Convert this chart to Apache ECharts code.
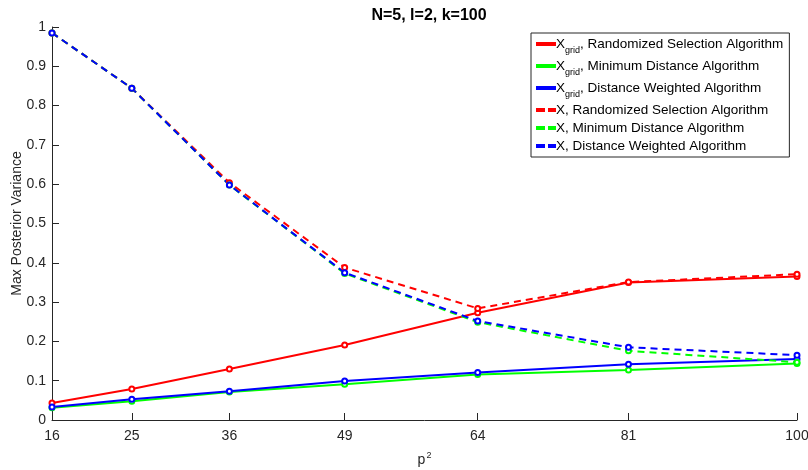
<!DOCTYPE html>
<html>
<head>
<meta charset="utf-8">
<script src="https://cdn.jsdelivr.net/npm/echarts@6/dist/echarts.min.js"></script>
<style>html,body{margin:0;padding:0;background:#fff}#c{width:808px;height:470px}</style>
</head>
<body>
<div id="c"></div>
<script>
var xValues = [16, 25, 36, 49, 64, 81, 100];
var xTicks = [16, 25, 36, 49, 64, 81, 100];
var gridRandomized = [0.043, 0.079, 0.130, 0.191, 0.273, 0.350, 0.365];
var gridMinDistance = [0.031, 0.048, 0.071, 0.091, 0.116, 0.127, 0.144];
var gridDistWeighted = [0.033, 0.053, 0.073, 0.099, 0.121, 0.142, 0.155];
var xRandomized = [0.985, 0.844, 0.604, 0.388, 0.284, 0.351, 0.371];
var xMinDistance = [0.985, 0.844, 0.598, 0.373, 0.249, 0.176, 0.147];
var xDistWeighted = [0.985, 0.844, 0.598, 0.375, 0.252, 0.185, 0.165];

var seriesDefs = [
  {name: 'X_grid, Randomized Selection Algorithm', data: gridRandomized, color: '#ff0000', dashed: false},
  {name: 'X_grid, Minimum Distance Algorithm', data: gridMinDistance, color: '#00ff00', dashed: false},
  {name: 'X_grid, Distance Weighted Algorithm', data: gridDistWeighted, color: '#0000ff', dashed: false},
  {name: 'X, Randomized Selection Algorithm', data: xRandomized, color: '#ff0000', dashed: true},
  {name: 'X, Minimum Distance Algorithm', data: xMinDistance, color: '#00ff00', dashed: true},
  {name: 'X, Distance Weighted Algorithm', data: xDistWeighted, color: '#0000ff', dashed: true}
];

function pairs(arr) { return arr.map(function (v, i) { return [xValues[i], v]; }); }

var chart = echarts.init(document.getElementById('c'), null, {renderer: 'canvas'});
var axisColor = '#262626';
var font = 'Liberation Sans, Arial, Helvetica, sans-serif';

var option = {
  backgroundColor: '#ffffff',
  animation: false,
  textStyle: {fontFamily: font},
  title: {
    text: 'N=5, l=2, k=100',
    left: 424, top: 3, textAlign: 'center',
    textStyle: {fontSize: 16, fontWeight: 'bold', color: '#000', fontFamily: font}
  },
  grid: {left: 52, right: 11, top: 27, bottom: 50, containLabel: false, outerBoundsMode: 'none'},
  legend: {
    orient: 'vertical',
    left: 531, top: 33,
    padding: [4, 6, 4, 5],
    itemGap: 4,
    itemWidth: 18, itemHeight: 2,
    borderColor: axisColor, borderWidth: 1,
    backgroundColor: '#fff',
    textStyle: {
      fontSize: 13.5, color: '#000', fontFamily: font, padding: [0, 0, 0, -4],
      rich: {
        sub: {fontSize: 9, verticalAlign: 'bottom', padding: [13, 0, 0, 0], fontFamily: font, color: '#000'},
        n: {fontSize: 13.5, fontFamily: font, color: '#000'}
      }
    },
    formatter: function (name) {
      if (name.indexOf('X_grid') === 0) {
        return '{n|X}{sub|grid}{n|' + name.slice(6) + '}';
      }
      return '{n|' + name + '}';
    },
    data: seriesDefs.map(function (s) {
      return {
        name: s.name,
        icon: s.dashed ? 'path://M0,0h7v2h-7z M12,0h6v2h-6z' : 'path://M0,0h18v2h-18z'
      };
    })
  },
  xAxis: {
    type: 'value', min: 16, max: 100,
    name: '{a|p}{b|2}', nameLocation: 'middle', nameGap: 31,
    nameMoveOverlap: false,
    nameTextStyle: {
      color: axisColor, fontSize: 14, fontFamily: font,
      rich: {a: {fontSize: 14, color: axisColor, fontFamily: font}, b: {fontSize: 9, color: axisColor, fontFamily: font, verticalAlign: 'top', padding: [0, 0, 10, 1]}}
    },
    axisLine: {show: true, lineStyle: {color: axisColor, width: 1}},
    axisTick: {show: true, inside: true, length: 7, customValues: xTicks, lineStyle: {color: axisColor}},
    axisLabel: {customValues: xTicks, color: axisColor, fontSize: 14, margin: 9, fontFamily: font},
    splitLine: {show: false}
  },
  yAxis: {
    type: 'value', min: 0, max: 1, interval: 0.1,
    name: 'Max Posterior Variance', nameLocation: 'middle', nameGap: 28,
    nameMoveOverlap: false,
    nameTextStyle: {color: axisColor, fontSize: 14, fontFamily: font},
    axisLine: {show: true, lineStyle: {color: axisColor, width: 1}},
    axisTick: {show: true, inside: true, length: 7, lineStyle: {color: axisColor}},
    axisLabel: {color: axisColor, fontSize: 14, margin: 6, fontFamily: font},
    splitLine: {show: false}
  },
  series: seriesDefs.map(function (s) {
    return {
      name: s.name,
      type: 'line',
      data: pairs(s.data),
      color: s.color,
      symbol: 'emptyCircle',
      symbolSize: 5,
      showSymbol: true,
      lineStyle: {width: 2, color: s.color, type: s.dashed ? [7, 5] : 'solid'},
      itemStyle: {color: s.color, borderColor: s.color, borderWidth: 1},
      emphasis: {disabled: true}
    };
  })
};
chart.setOption(option);
</script>
</body>
</html>
